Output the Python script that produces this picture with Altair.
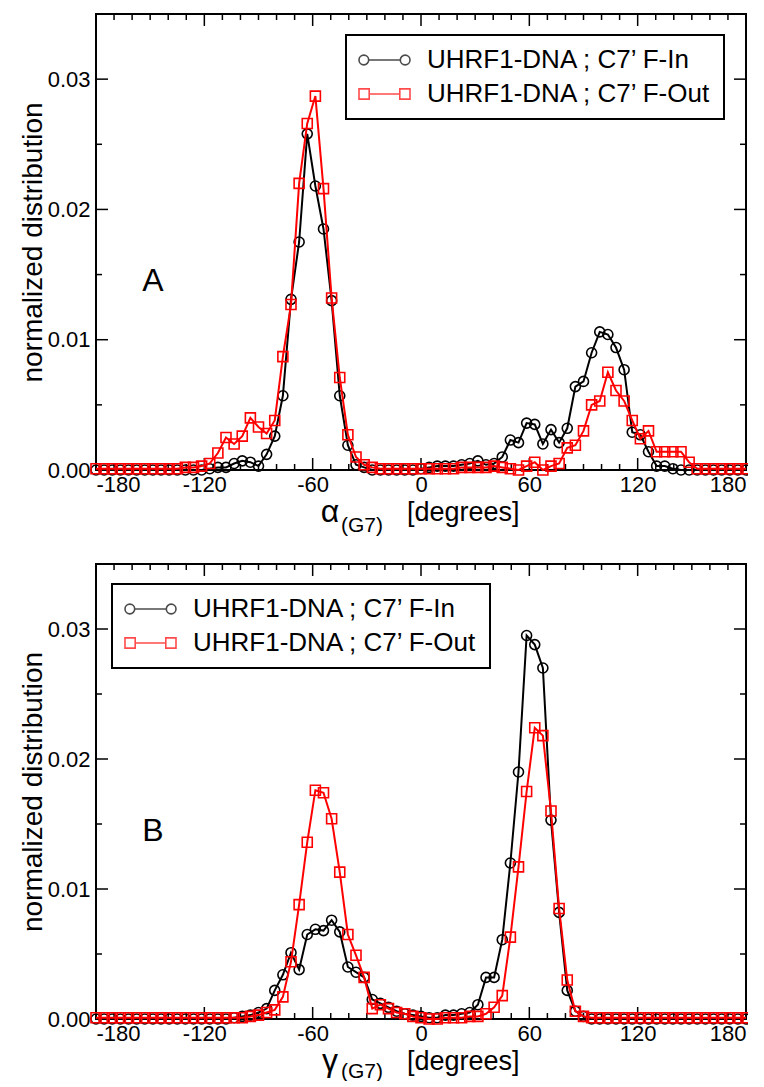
import altair as alt
import pandas as pd

# ---------------- data ----------------
ANGLES = [-180, -175.5, -171, -166.5, -162, -157.5, -153, -148.5, -144, -139.5,
          -135, -130.5, -126, -121.5, -117, -112.5, -108, -103.5, -99, -94.5,
          -90, -85.5, -81, -76.5, -72, -67.5, -63, -58.5, -54, -49.5,
          -45, -40.5, -36, -31.5, -27, -22.5, -18, -13.5, -9, -4.5,
          0, 4.5, 9, 13.5, 18, 22.5, 27, 31.5, 36, 40.5,
          45, 49.5, 54, 58.5, 63, 67.5, 72, 76.5, 81, 85.5,
          90, 94.5, 99, 103.5, 108, 112.5, 117, 121.5, 126, 130.5,
          135, 139.5, 144, 148.5, 153, 157.5, 162, 166.5, 171, 175.5,
          180]

A_IN = [0, 0, 0, 0, 0, 0, 0, 0, 0, 0,
        0, 0, 0, 0, 0.0001, 0.0002, 0.0002, 0.0005, 0.0007, 0.0006,
        0.0003, 0.0012, 0.0026, 0.0057, 0.0131, 0.0175, 0.0258, 0.0218, 0.0185, 0.0130,
        0.0057, 0.0019, 0.0004, 0.0002, 0, 0, 0, 0, 0, 0,
        0.0001, 0.0002, 0.0003, 0.0003, 0.0003, 0.0004, 0.0005, 0.0007, 0.0004, 0.0005,
        0.0010, 0.0023, 0.0021, 0.0036, 0.0035, 0.0020, 0.0031, 0.0021, 0.0032, 0.0064,
        0.0068, 0.0090, 0.0106, 0.0104, 0.0094, 0.0077, 0.0029, 0.0027, 0.0014, 0.0003,
        0.0003, 0.0001, 0, 0, 0, 0, 0, 0, 0, 0,
        0]

A_OUT = [0.0001, 0.0001, 0.0001, 0.0001, 0.0001, 0.0001, 0.0001, 0.0001, 0.0001, 0.0001,
         0.0001, 0.0002, 0.0002, 0.0003, 0.0005, 0.0013, 0.0025, 0.0020, 0.0026, 0.0040,
         0.0033, 0.0028, 0.0038, 0.0087, 0.0127, 0.0220, 0.0266, 0.0287, 0.0216, 0.0132,
         0.0071, 0.0027, 0.0010, 0.0004, 0.0002, 0.0001, 0.0001, 0.0001, 0.0001, 0.0001,
         0.0001, 0.0001, 0.0001, 0.0001, 0.0001, 0.0002, 0.0002, 0.0002, 0.0002, 0.0003,
         0.0002, 0.0001, 0.0000, 0.0003, 0.0006, 0.0000, 0.0003, 0.0005, 0.0017, 0.0019,
         0.0030, 0.0050, 0.0053, 0.0075, 0.0061, 0.0053, 0.0038, 0.0024, 0.0030, 0.0014,
         0.0014, 0.0014, 0.0014, 0.0006, 0.0001, 0.0001, 0.0001, 0.0001, 0.0001, 0.0001,
         0.0001]

B_IN = [0, 0, 0, 0, 0, 0, 0, 0, 0, 0,
        0, 0, 0, 0, 0, 0, 0, 0.0001, 0.0002, 0.0003,
        0.0005, 0.0008, 0.0022, 0.0034, 0.0051, 0.0038, 0.0065, 0.0069, 0.0068, 0.0076,
        0.0067, 0.0040, 0.0036, 0.0032, 0.0015, 0.0012, 0.0009, 0.0006, 0.0004, 0.0003,
        0.0002, 0.0001, 0.0001, 0.0003, 0.0003, 0.0004, 0.0005, 0.0011, 0.0032, 0.0032,
        0.0061, 0.0120, 0.0190, 0.0295, 0.0288, 0.0270, 0.0153, 0.0082, 0.0022, 0.0006,
        0.0002, 0, 0, 0, 0, 0, 0, 0, 0, 0,
        0, 0, 0, 0, 0, 0, 0, 0, 0, 0,
        0]

B_OUT = [0.0001, 0.0001, 0.0001, 0.0001, 0.0001, 0.0001, 0.0001, 0.0001, 0.0001, 0.0001,
         0.0001, 0.0001, 0.0001, 0.0001, 0.0001, 0.0001, 0.0001, 0.0001, 0.0001, 0.0002,
         0.0003, 0.0005, 0.0007, 0.0017, 0.0044, 0.0088, 0.0136, 0.0176, 0.0174, 0.0154,
         0.0113, 0.0065, 0.0049, 0.0032, 0.0008, 0.0011, 0.0008, 0.0005, 0.0004, 0.0002,
         0.0001, 0.0000, 0.0000, 0.0001, 0.0001, 0.0001, 0.0002, 0.0002, 0.0004, 0.0009,
         0.0018, 0.0063, 0.0117, 0.0175, 0.0224, 0.0218, 0.0160, 0.0085, 0.0030, 0.0006,
         0.0002, 0.0001, 0.0001, 0.0001, 0.0001, 0.0001, 0.0001, 0.0001, 0.0001, 0.0001,
         0.0001, 0.0001, 0.0001, 0.0001, 0.0001, 0.0001, 0.0001, 0.0001, 0.0001, 0.0001,
         0.0001]

SERIES = ["UHRF1-DNA ; C7\u2019 F-In", "UHRF1-DNA ; C7\u2019 F-Out"]
COLORS = ["#000000", "#ff0000"]

X_MAJOR = [-180, -120, -60, 0, 60, 120, 180]
X_MINOR = [-170, -160, -150, -140, -130, -110, -100, -90, -80, -70, -50, -40, -30, -20, -10,
           10, 20, 30, 40, 50, 70, 80, 90, 100, 110, 130, 140, 150, 160, 170]
Y_MAJOR = [0, 0.01, 0.02, 0.03]
Y_MINOR = [0.005, 0.015, 0.025]

# ---------------- styling ----------------
W = 650
FONT = "Liberation Sans"
MAJ, MIN = 12, 6

LEG_CIRCLE = ("M-1,0A0.19,0.19,0,1,0,-0.62,0A0.19,0.19,0,1,0,-1,0Z"
              "M-0.62,0L0.62,0"
              "M0.62,0A0.19,0.19,0,1,0,1,0A0.19,0.19,0,1,0,0.62,0Z")
LEG_SQUARE = ("M-1,-0.2L-0.6,-0.2L-0.6,0.2L-1,0.2Z"
              "M-0.6,0L0.6,0"
              "M0.6,-0.2L1,-0.2L1,0.2L0.6,0.2Z")

xs = alt.Scale(domain=[-180, 180], nice=False, zero=False)
ys = alt.Scale(domain=[0, 0.035], nice=False, zero=False)

X_AXIS = alt.Axis(
    values=X_MAJOR, ticks=False, domain=False, grid=False, title=None,
    labelExpr="datum.value < 0 ? '-' + abs(datum.value) : '' + datum.value",
    labelFontSize=22, labelPadding=4, labelColor="black", labelFont=FONT)
Y_AXIS = alt.Axis(
    values=Y_MAJOR, format=".2f", ticks=False, domain=False, grid=False,
    title="normalized distribution", titleFontSize=28, titleFontWeight="normal",
    titleFont=FONT, titleColor="black", titlePadding=0,
    labelFontSize=22, labelPadding=6, labelColor="black", labelFont=FONT)

one = alt.Data(values=[{"k": 1}])


def text_mark(txt, x, y, size, align="left", baseline="middle"):
    return alt.Chart(one).mark_text(
        text=txt, fontSize=size, align=align, baseline=baseline,
        font=FONT, color="black"
    ).encode(x=alt.value(x), y=alt.value(y))


def panel(v_in, v_out, greek, letter, leg_x, leg_y, H, ty_off):
    n = len(ANGLES)
    df = pd.DataFrame({
        "angle": ANGLES + ANGLES,
        "value": v_in + v_out,
        "series": [SERIES[0]] * n + [SERIES[1]] * n,
    })
    x_enc = alt.X("angle:Q", scale=xs, axis=X_AXIS)
    y_enc = alt.Y("value:Q", scale=ys, axis=Y_AXIS)

    base = alt.Chart(df)
    layers = []

    # inward ticks on all four sides
    xmaj = alt.Chart(pd.DataFrame({"t": X_MAJOR}))
    xmin = alt.Chart(pd.DataFrame({"t": X_MINOR}))
    ymaj = alt.Chart(pd.DataFrame({"t": Y_MAJOR}))
    ymin = alt.Chart(pd.DataFrame({"t": Y_MINOR}))
    tx = alt.X("t:Q", scale=xs, axis=X_AXIS)
    ty = alt.Y("t:Q", scale=ys, axis=Y_AXIS)
    rule = dict(color="black", strokeWidth=1.5)
    layers += [
        xmaj.mark_rule(**rule).encode(x=tx, y=alt.value(H), y2=alt.value(H - MAJ)),
        xmaj.mark_rule(**rule).encode(x=tx, y=alt.value(0), y2=alt.value(MAJ)),
        xmin.mark_rule(**rule).encode(x=tx, y=alt.value(H), y2=alt.value(H - MIN)),
        xmin.mark_rule(**rule).encode(x=tx, y=alt.value(0), y2=alt.value(MIN)),
        ymaj.mark_rule(**rule).encode(y=ty, x=alt.value(0), x2=alt.value(MAJ)),
        ymaj.mark_rule(**rule).encode(y=ty, x=alt.value(W), x2=alt.value(W - MAJ)),
        ymin.mark_rule(**rule).encode(y=ty, x=alt.value(0), x2=alt.value(MIN)),
        ymin.mark_rule(**rule).encode(y=ty, x=alt.value(W), x2=alt.value(W - MIN)),
    ]

    for s, col, shp, sz in zip(SERIES, COLORS, ["circle", "square"], [100, 100]):
        sub = base.transform_filter(alt.datum.series == s)
        layers.append(sub.mark_line(color=col, strokeWidth=2).encode(x=x_enc, y=y_enc))
        layers.append(sub.mark_point(shape=shp, filled=False, color=col, size=sz,
                                     strokeWidth=1.6, opacity=1).encode(x=x_enc, y=y_enc))

    leg = alt.Legend(
        title=None, orient="none", legendX=leg_x, legendY=leg_y,
        strokeColor="black", fillColor="white", padding=12,
        symbolOffset=0, labelOffset=16, labelFontSize=26, labelFont=FONT,
        labelColor="black", labelLimit=500, symbolSize=2601,
        symbolStrokeWidth=1.6, symbolFillColor="transparent",
        clipHeight=26, rowPadding=8)
    layers.append(
        base.transform_filter("false").mark_point(filled=False, strokeWidth=1.6).encode(
            x=x_enc, y=y_enc,
            color=alt.Color("series:N", scale=alt.Scale(domain=SERIES, range=COLORS), legend=leg),
            shape=alt.Shape("series:N", scale=alt.Scale(domain=SERIES, range=[LEG_CIRCLE, LEG_SQUARE]), legend=leg),
        )
    )

    # panel letter and x-axis title with subscript
    g_off, s_off, d_off = ty_off
    layers += [
        text_mark(letter, 57, 267, 32, align="center"),
        text_mark(greek, 234, H + g_off, 32, align="center"),
        text_mark("(G7)", 245, H + s_off, 21),
        text_mark("[degrees]", 311, H + d_off, 27),
    ]
    return alt.layer(*layers).properties(width=W, height=H)


pA = panel(A_IN, A_OUT, "\u03b1", "A", 250, 21, 456, (42, 56, 43))
pB = panel(B_IN, B_OUT, "\u03b3", "B", 16, 20, 455, (42, 53, 43))

chart = alt.vconcat(pA, pB, spacing=94, bounds="flush").resolve_scale(
    color="independent", shape="independent"
).resolve_legend(
    color="independent", shape="independent"
).properties(
    padding={"left": 10, "top": 4, "right": -8, "bottom": -2}
).configure(
    font=FONT, background="white"
).configure_view(
    stroke="black", strokeWidth=2
).configure_legend(
    strokeWidth=2
)

chart.save("out.html", embed_options={"renderer": "svg", "actions": False})
